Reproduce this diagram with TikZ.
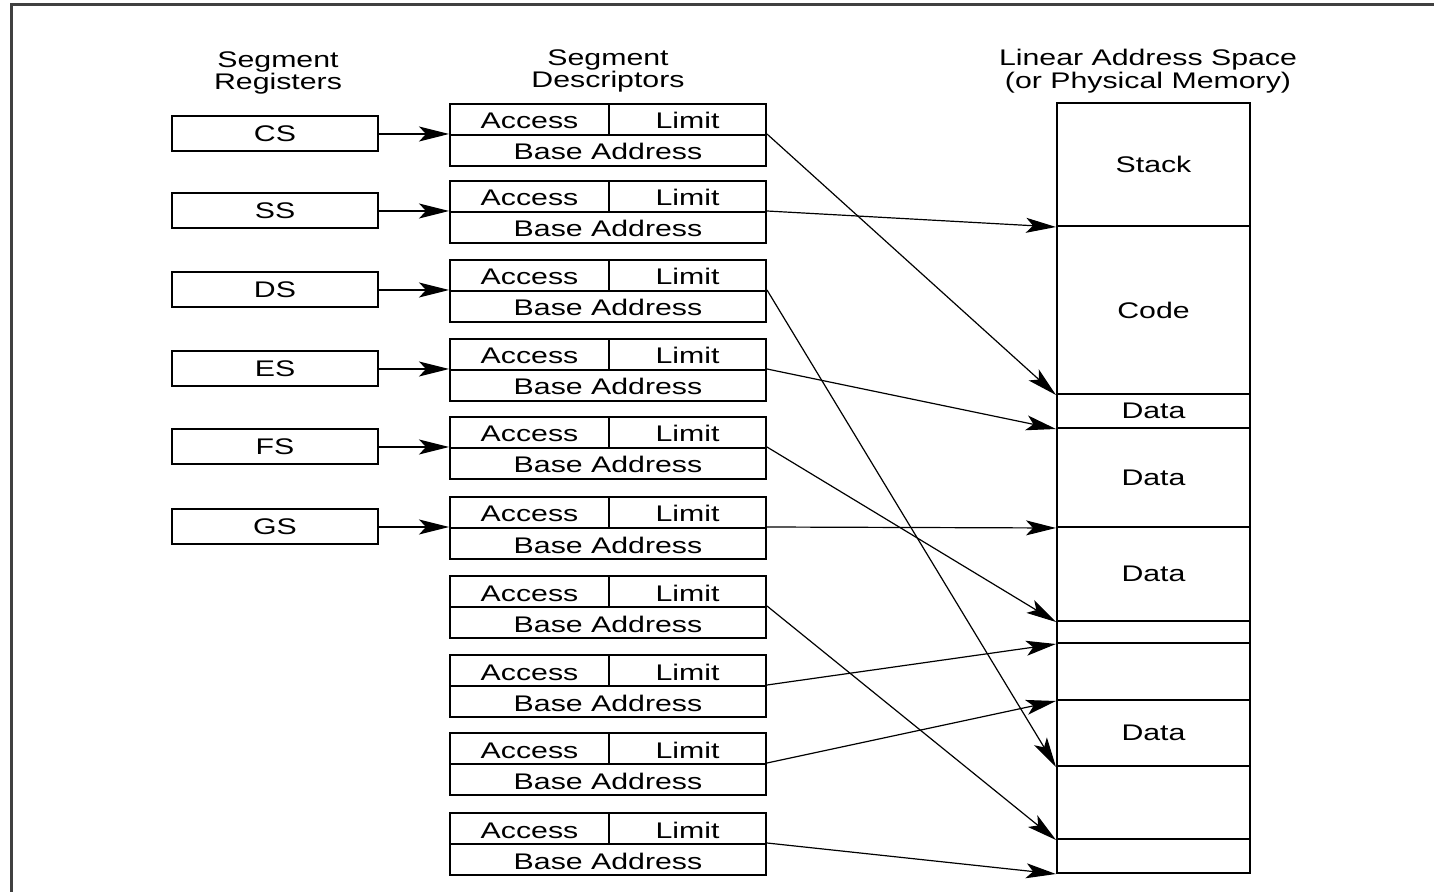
\documentclass[tikz,border=0pt]{standalone}
\usepackage{fontspec}
\setmainfont[FakeStretch=1.34]{Liberation Sans}
\usetikzlibrary{arrows.meta,positioning}

\tikzset{
	cell/.style={draw, line width=1pt, inner sep=0pt, minimum height=15.5pt, text height=9.5pt, text depth=0pt},
	regbox/.style={draw, line width=1pt, inner sep=0pt, minimum width=103pt, minimum height=17.5pt},
	segbox/.style={draw, line width=1pt, inner sep=0pt, minimum width=96.5pt},
	ptr/.style={line width=0.6pt, -{Stealth[length=15pt,width=7.5pt,inset=3.5pt]}}
}

\begin{document}
\begin{tikzpicture}[x=0.5pt, y=-0.5pt, font=\fontsize{11.3}{11.2}\selectfont]
	\useasboundingbox (0,0) rectangle (1434,892);
	\draw[line width=1.5pt, black!75] (11,892) -- (11,5) -- (1434,5);

	\node[align=center] (title-reg) at (278,73) {Segment\\Registers};
	\node[align=center] (title-desc) at (608,71) {Segment\\Descriptors};
	\node[align=center] (title-mem) at (1148,71) {Linear Address Space\\(or Physical Memory)};

	% descriptor table
	\foreach \t [count=\i] in {104,181,260,339,417,497,576,655,733,813} {
		\node[cell, minimum width=79.5pt] (acc-\i) at (529.5,\t+15.5) {Access};
		\node[cell, minimum width=78.5pt] (lim-\i) at (687.5,\t+15.5) {Limit};
		\node[cell, minimum width=158pt] (base-\i) at (608,\t+46.5) {Base Address};
	}

	% segment registers
	\foreach \r [count=\i] in {CS,SS,DS,ES,FS,GS} {
		\node[regbox, left=35pt of base-\i.north west] (reg-\r) {\r};
		\draw[ptr] (reg-\r.east) -- (base-\i.north west);
	}

	% linear address space
	\foreach \a/\b/\lbl [count=\k] in {103/226/Stack, 226/394/Code, 394/428/Data, 428/527/Data, 527/621/Data,
			621/643/, 643/700/, 700/766/Data, 766/839/, 839/873/} {
		\node[segbox, minimum height={(\b-\a)*0.5pt}] (mem-\k) at (1153.5,{(\a+\b)/2}) {\lbl};
	}

	\foreach \i/\k in {1/2, 2/1, 3/8, 4/3, 5/5, 6/4, 7/9, 8/6, 9/7, 10/10}
		\draw[ptr] (base-\i.north east) -- (mem-\k.south west);
\end{tikzpicture}
\end{document}
